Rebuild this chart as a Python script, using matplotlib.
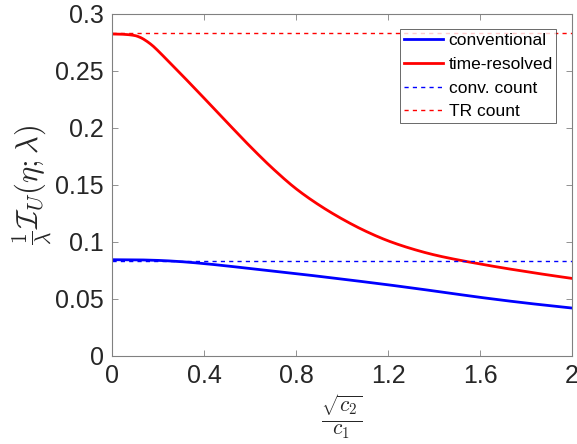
import numpy as np
import matplotlib
matplotlib.use("Agg")
import matplotlib.pyplot as plt

plt.rcParams['mathtext.fontset'] = 'cm'
plt.rcParams['font.family'] = ['Liberation Sans', 'DejaVu Sans']

# data
x_tr = [0.0, 0.03, 0.06, 0.1, 0.125, 0.15, 0.175, 0.2, 0.25, 0.3, 0.4, 0.5, 0.6,
        0.7, 0.8, 0.9, 1.0, 1.1, 1.2, 1.3, 1.4, 1.5, 1.6, 1.7, 1.8, 1.9, 2.0]
y_tr = [0.2822, 0.2821, 0.2818, 0.2808, 0.2790, 0.2760, 0.2722, 0.2675, 0.2572,
        0.2470, 0.2260, 0.2047, 0.1837, 0.1640, 0.1465, 0.1322, 0.1200, 0.1095,
        0.1008, 0.0940, 0.0885, 0.0842, 0.0805, 0.0770, 0.0738, 0.0707, 0.0678]
x_conv = [0.0, 0.1, 0.2, 0.3, 0.4, 0.6, 0.8, 1.0, 1.2, 1.4, 1.6, 1.8, 2.0]
y_conv = [0.0842, 0.0841, 0.0836, 0.0825, 0.0808, 0.0765, 0.0720, 0.0672,
          0.0622, 0.0568, 0.0512, 0.0462, 0.0418]
conv_count = 0.0833
tr_count = 0.2833

xticks = [0, 0.4, 0.8, 1.2, 1.6, 2]
xticklabels = ['0', '0.4', '0.8', '1.2', '1.6', '2']
yticks = [0, 0.05, 0.1, 0.15, 0.2, 0.25, 0.3]
yticklabels = ['0', '0.05', '0.1', '0.15', '0.2', '0.25', '0.3']


def hermite(xp, yp, xs):
    """Monotone cubic Hermite (Fritsch-Carlson) through the read points."""
    xp = np.asarray(xp, float)
    yp = np.asarray(yp, float)
    h = np.diff(xp)
    d = np.diff(yp) / h
    m = np.zeros_like(yp)
    m[0], m[-1] = d[0], d[-1]
    for i in range(1, len(xp) - 1):
        if d[i - 1] * d[i] <= 0:
            m[i] = 0
        else:
            w1 = 2 * h[i] + h[i - 1]
            w2 = h[i] + 2 * h[i - 1]
            m[i] = (w1 + w2) / (w1 / d[i - 1] + w2 / d[i])
    idx = np.clip(np.searchsorted(xp, xs) - 1, 0, len(xp) - 2)
    t = (xs - xp[idx]) / h[idx]
    h00 = 2 * t**3 - 3 * t**2 + 1
    h10 = t**3 - 2 * t**2 + t
    h01 = -2 * t**3 + 3 * t**2
    h11 = t**3 - t**2
    return (h00 * yp[idx] + h10 * h[idx] * m[idx] + h01 * yp[idx + 1]
            + h11 * h[idx] * m[idx + 1])


fig = plt.figure(figsize=(5.77, 4.44), dpi=100)
ax = fig.add_axes([112/577, 1 - 355.7/444, 460/577, 342/444])

xs = np.linspace(0, 2, 600)
ax.plot(xs, hermite(x_conv, y_conv, xs), color='#0000ff', lw=2.0, label='conventional')
ax.plot(xs, hermite(x_tr, y_tr, xs), color='#ff0000', lw=2.0, label='time-resolved')
ax.plot([0, 2], [conv_count, conv_count], color='#0000ff', lw=1.0, ls=(0, (3, 3)), label='conv. count')
ax.plot([0, 2], [tr_count, tr_count], color='#ff0000', lw=1.0, ls=(0, (3, 3)), label='TR count')

ax.set_xlim(0, 2)
ax.set_ylim(0, 0.3)
ax.set_xticks(xticks)
ax.set_xticklabels(xticklabels)
ax.set_yticks(yticks)
ax.set_yticklabels(yticklabels)
ax.tick_params(direction='in', length=4, width=0.6, color='#808080',
               labelsize=18, labelcolor='#262626', top=True, right=True, pad=6)
for s in ax.spines.values():
    s.set_color('#808080')
    s.set_linewidth(0.8)

ax.set_xlabel(r'$\frac{\sqrt{c_2}}{c_1}$', fontsize=22, color='#262626', labelpad=4)
ax.set_ylabel(r'$\frac{1}{\lambda}\mathcal{I}_U(\eta;\lambda)$', fontsize=22, color='#262626', labelpad=0)

leg = ax.legend(loc='upper right', fontsize=12.5, frameon=True, fancybox=False,
                edgecolor='#262626', handlelength=2.3, handletextpad=0.3,
                borderpad=0.2, labelspacing=0.5, borderaxespad=0.9)
leg.get_frame().set_linewidth(0.6)

fig.savefig('out.png', dpi=100)
